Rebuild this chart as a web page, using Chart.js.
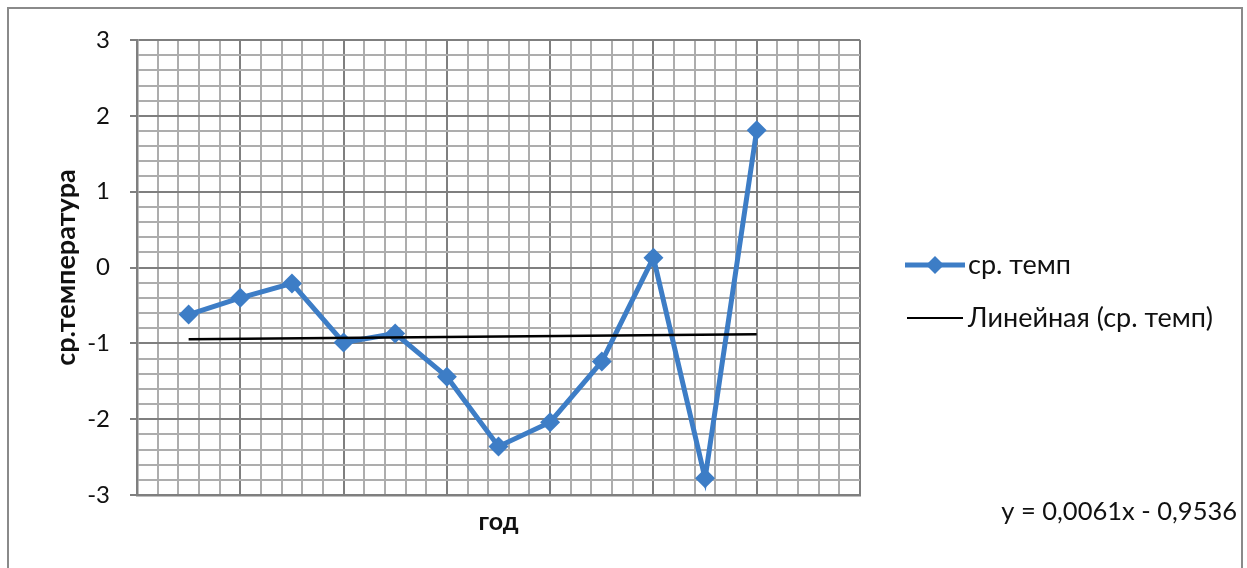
<!DOCTYPE html>
<html>
<head>
<meta charset="utf-8">
<script src="https://cdn.jsdelivr.net/npm/chart.js@4.4.1/dist/chart.umd.min.js"></script>
<style>
  html, body { margin: 0; padding: 0; background: #fff; }
  canvas { display: block; }
</style>
</head>
<body>
<canvas id="chart" width="1247" height="568"></canvas>
<script>
// data
const years = [1, 2, 3, 4, 5, 6, 7, 8, 9, 10, 11, 12]
const avgTemp = [-0.62, -0.40, -0.21, -0.99, -0.87, -1.44, -2.36, -2.04, -1.24, 0.13, -2.78, 1.81]
const trendX = [1, 12]
const trendY = [-0.947, -0.880]
const yTickLabels = [-3, -2, -1, 0, 1, 2, 3]
const seriesName = 'ср. темп'
const trendName = 'Линейная (ср. темп)'
const trendText = 'y = 0,0061x - 0,9536'

const blue = '#3d7dc6'
const font = 'Lato'

const near = (a, b) => Math.abs(a - b) < 1e-6
const isMajorY = v => near(v, Math.round(v))
const isMajorX = v => near(v / 2, Math.round(v / 2))

const stepTicks = (min, max, step) => {
    const out = []
    for (let v = min; v <= max + 1e-9; v += step) out.push({value: Math.round(v * 10) / 10})
    return out
}

const extras = {
    id: 'extras',
    beforeDraw(chart) {
        const c = chart.ctx
        c.save()
        c.strokeStyle = '#8a8a8a'
        c.lineWidth = 2
        c.strokeRect(8, 8, 1234, 600)
        c.restore()
    },
    afterDraw(chart) {
        const c = chart.ctx
        c.save()
        c.font = '27px ' + font
        c.fillStyle = '#111'
        c.textBaseline = 'middle'
        // legend row 1
        c.strokeStyle = blue
        c.lineWidth = 5
        c.beginPath(); c.moveTo(905, 265); c.lineTo(965, 265); c.stroke()
        c.fillStyle = blue
        c.beginPath()
        c.moveTo(935, 256); c.lineTo(944, 265); c.lineTo(935, 274); c.lineTo(926, 265)
        c.closePath(); c.fill()
        c.fillStyle = '#111'
        c.fillText(seriesName, 968, 265)
        // legend row 2
        c.strokeStyle = '#000'
        c.lineWidth = 2
        c.beginPath(); c.moveTo(907, 318); c.lineTo(963, 318); c.stroke()
        c.fillText(trendName, 968, 318)
        // trend equation
        c.font = '25.5px ' + font
        c.textAlign = 'right'
        c.fillText(trendText, 1237, 512)
        c.restore()
    }
}

new Chart(document.getElementById('chart'), {
    type: 'scatter',
    data: {
        datasets: [{
            label: seriesName,
            data: years.map((x, i) => ({x, y: avgTemp[i]})),
            showLine: true,
            borderColor: blue,
            backgroundColor: blue,
            borderWidth: 5,
            pointStyle: 'rectRot',
            pointRadius: 10,
            pointBorderWidth: 0,
            order: 1
        }, {
            label: trendName,
            data: trendX.map((x, i) => ({x, y: trendY[i]})),
            showLine: true,
            borderColor: '#000',
            borderWidth: 2.5,
            pointRadius: 0,
            order: 0
        }]
    },
    options: {
        responsive: false,
        animation: false,
        devicePixelRatio: 1,
        layout: {padding: {top: 40, right: 387, bottom: 0, left: 0}},
        plugins: {legend: {display: false}, tooltip: {enabled: false}},
        scales: {
            x: {
                type: 'linear',
                min: 0,
                max: 14,
                afterBuildTicks: s => { s.ticks = stepTicks(0, 14, 0.4) },
                afterFit: s => { s.height = 73 },
                ticks: {display: false, autoSkip: false},
                grid: {
                    drawTicks: false,
                    lineWidth: 2,
                    color: ctx => isMajorX(ctx.tick.value) ? '#7f7f7f' : '#adadad'
                },
                border: {color: '#7f7f7f', width: 2.5},
                title: {
                    display: true,
                    text: 'год',
                    color: '#111',
                    font: {family: font, size: 25, weight: 'bold'},
                    padding: {top: 0, bottom: 31}
                }
            },
            y: {
                min: -3,
                max: 3,
                afterBuildTicks: s => { s.ticks = stepTicks(-3, 3, 0.2) },
                afterFit: s => { s.width = 137 },
                ticks: {
                    autoSkip: false,
                    padding: 20,
                    color: '#111',
                    font: {family: font, size: 24},
                    callback: v => yTickLabels.some(t => near(t, v)) ? String(Math.round(v)) : ''
                },
                grid: {
                    tickLength: 7,
                    lineWidth: 2,
                    color: ctx => isMajorY(ctx.tick.value) ? '#7f7f7f' : '#adadad',
                    tickColor: ctx => isMajorY(ctx.tick.value) ? '#7f7f7f' : 'rgba(0,0,0,0)'
                },
                border: {color: '#7f7f7f', width: 2.5},
                title: {
                    display: true,
                    text: 'ср.температура',
                    color: '#111',
                    font: {family: font, size: 27, weight: 'bold'},
                    padding: {top: 50, bottom: 0}
                }
            }
        }
    },
    plugins: [extras]
})
</script>
</body>
</html>
